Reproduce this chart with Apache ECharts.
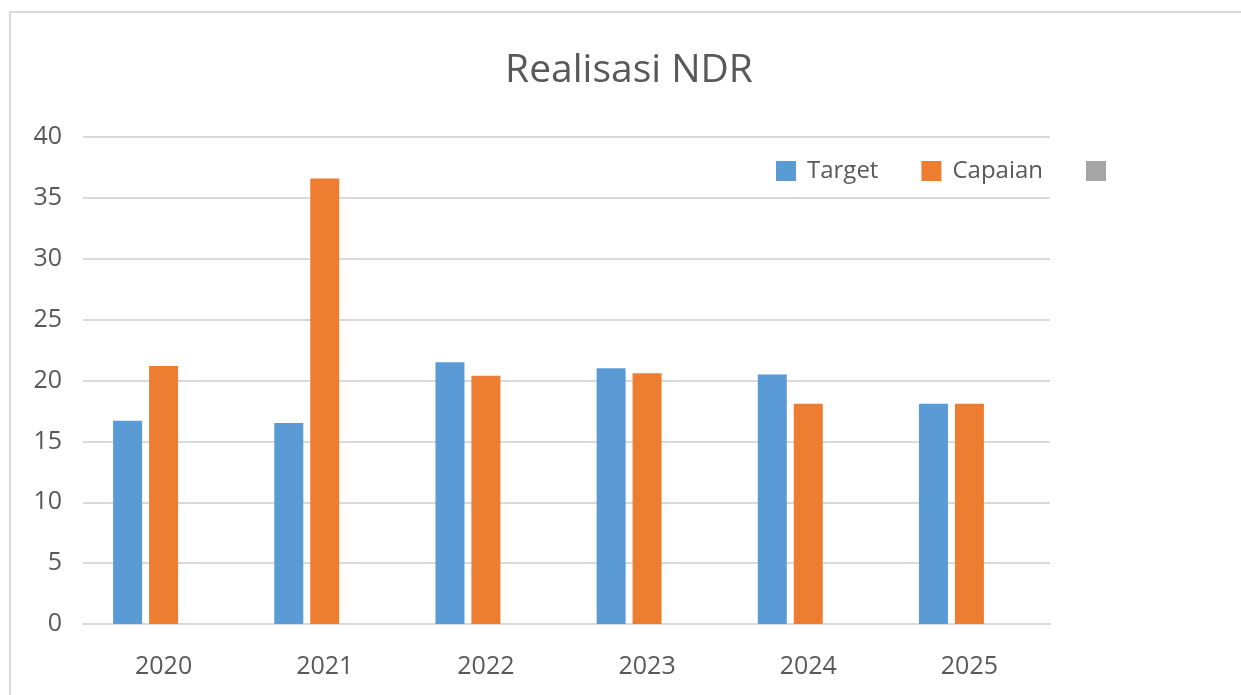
<!DOCTYPE html>
<html>
<head>
<meta charset="utf-8">
<script src="https://cdn.jsdelivr.net/npm/echarts@6/dist/echarts.min.js"></script>
<style>
  html, body { margin: 0; padding: 0; background: #fff; overflow: hidden; }
  #chart { width: 1241px; height: 695px; }
</style>
</head>
<body>
<div id="chart"></div>
<script>
// data
const years = ['2020', '2021', '2022', '2023', '2024', '2025']
const target = [16.7, 16.5, 21.5, 21.0, 20.5, 18.1]
const capaian = [21.2, 36.6, 20.4, 20.6, 18.1, 18.1]
const kosong = [null, null, null, null, null, null] // third series, no values
const yTicks = { min: 0, max: 40, interval: 5 }

const font = '"Open Sans", "Liberation Sans", sans-serif'
const textColor = '#595959'
const lineColor = '#d9d9d9'

const chart = echarts.init(document.getElementById('chart'))

const barStyle = { barWidth: 29, barGap: '24%' }

const option = {
  backgroundColor: '#fff',
  animation: false,
  graphic: [
    {
      type: 'rect',
      shape: { x: 10, y: 12, width: 1400, height: 900 },
      style: { fill: 'none', stroke: lineColor, lineWidth: 2 },
      silent: true
    }
  ],
  title: {
    text: 'Realisasi NDR',
    left: 624,
    textAlign: 'center',
    top: 46,
    textStyle: { fontFamily: font, fontSize: 39, fontWeight: 'normal', color: textColor }
  },
  legend: {
    left: 776,
    top: 159,
    padding: 0,
    icon: 'rect',
    itemWidth: 20,
    itemHeight: 20,
    itemGap: 43,
    textStyle: { fontFamily: font, fontSize: 24, color: textColor, padding: [0, 0, 0, 6] },
    data: ['Target', 'Capaian', ' ']
  },
  grid: { left: 83, right: 191, top: 137, bottom: 71 },
  xAxis: {
    type: 'category',
    data: years,
    axisLine: { show: true, lineStyle: { color: lineColor, width: 2 } },
    axisTick: { show: false },
    axisLabel: { margin: 30, fontFamily: font, fontSize: 25, color: textColor }
  },
  yAxis: {
    type: 'value',
    min: yTicks.min,
    max: yTicks.max,
    interval: yTicks.interval,
    axisLine: { show: false },
    axisTick: { show: false },
    axisLabel: { margin: 21, fontFamily: font, fontSize: 25, color: textColor },
    splitLine: { lineStyle: { color: lineColor, width: 2 } }
  },
  series: [
    { name: 'Target', type: 'bar', data: target, itemStyle: { color: '#5b9bd5' }, ...barStyle },
    { name: 'Capaian', type: 'bar', data: capaian, itemStyle: { color: '#ed7d31' }, ...barStyle },
    { name: ' ', type: 'bar', data: kosong, itemStyle: { color: '#a5a5a5' }, ...barStyle }
  ]
}

chart.setOption(option)
</script>
</body>
</html>
